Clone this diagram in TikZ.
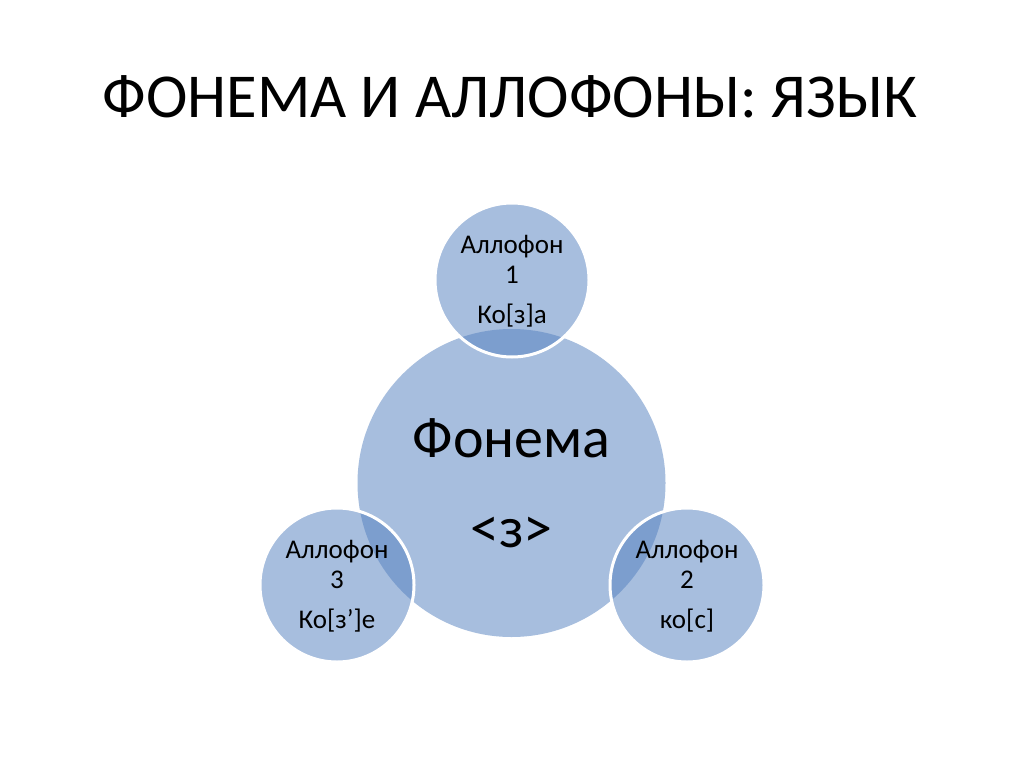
\documentclass[tikz,border=0pt]{standalone}
\usepackage{fontspec}
\setmainfont{Carlito}
\definecolor{fillc}{RGB}{167,190,222}
\definecolor{overc}{RGB}{124,158,206}
\begin{document}
\begin{tikzpicture}[x=1pt,y=-1pt,
  bigc/.style={circle,fill=fillc,minimum size=308pt,inner sep=0pt},
  smallc/.style={circle,fill=fillc,minimum size=154pt,inner sep=0pt},
  rim/.style={draw=white,line width=3pt},
  txt/.style={anchor=base,inner sep=0pt,text=black},
  stxt/.style={txt,font=\fontsize{27}{30}\selectfont},
  btxt/.style={txt,font=\fontsize{58}{66}\selectfont}]
\useasboundingbox (0,0) rectangle (1024,767);
\fill[white] (0,0) rectangle (1024,767);
\node[txt,font=\fontsize{62.5}{70}\selectfont] (title) at (510,118) {ФОНЕМА И АЛЛОФОНЫ: ЯЗЫК};
\node[bigc] (F) at (511.5,483) {};
\node[smallc] (A1) at (512,280) {};
\node[smallc] (A3) at (337,585) {};
\node[smallc] (A2) at (687,585) {};
\begin{scope}
  \clip (511.5,483) circle (154);
  \fill[overc] (512,280) circle (77);
  \fill[overc] (337,585) circle (77);
  \fill[overc] (687,585) circle (77);
\end{scope}
\draw[rim] (A1.center) circle (77);
\draw[rim] (A3.center) circle (77);
\draw[rim] (A2.center) circle (77);
\node[btxt] (f1) at (511.5,457) {Фонема};
\node[btxt] (f2) at (511.5,547) {<з>};
\node[stxt] (a11) at (512,253) {Аллофон};
\node[stxt] (a12) at (512,283) {1};
\node[stxt] (a13) at (512,323) {Ко[з]а};
\node[stxt] (a31) at (337,558) {Аллофон};
\node[stxt] (a32) at (337,588) {3};
\node[stxt] (a33) at (337,628) {Ко[з’]е};
\node[stxt] (a21) at (687,558) {Аллофон};
\node[stxt] (a22) at (687,588) {2};
\node[stxt] (a23) at (687,628) {ко[с]};
\end{tikzpicture}
\end{document}
